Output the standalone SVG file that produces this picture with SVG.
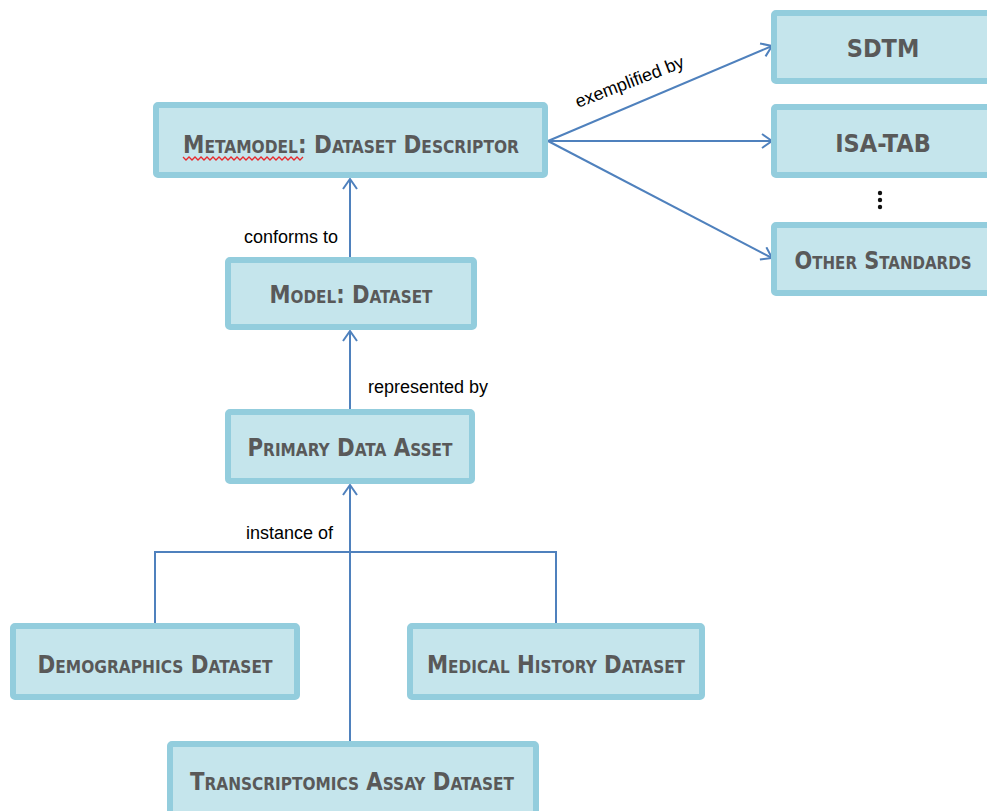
<svg xmlns="http://www.w3.org/2000/svg" width="987" height="811" viewBox="0 0 987 811">
  <style>
    .box { fill: #c5e5ec; stroke: #93cddd; stroke-width: 6; }
    .lbl { font-family: "Liberation Sans Narrow", "DejaVu Sans Condensed", "Liberation Sans", sans-serif; font-weight: bold; fill: #595959; text-anchor: middle; font-size: 25px; }
    .sc { font-variant: small-caps; }
    .edge { fill: none; stroke: #4f81bd; stroke-width: 2; }
    .elbl { font-family: "Liberation Sans", Arial, sans-serif; font-size: 18px; fill: #000; }
  </style>
  <defs>
    <marker id="open" viewBox="0 0 12 16" refX="11" refY="8" markerWidth="12" markerHeight="16" markerUnits="userSpaceOnUse" orient="auto">
      <path d="M1,1 L11,8 L1,15" fill="none" stroke="#4f81bd" stroke-width="2"/>
    </marker>
  </defs>

  <rect width="987" height="811" fill="#ffffff"/>

  <g id="connectors">
    <line class="edge" x1="350" y1="257" x2="350" y2="179" marker-end="url(#open)"/>
    <line class="edge" x1="350" y1="409" x2="350" y2="331" marker-end="url(#open)"/>
    <line class="edge" x1="350" y1="741" x2="350" y2="485" marker-end="url(#open)"/>
    <polyline class="edge" points="155,623 155,552 556,552 556,623"/>
    <line class="edge" x1="548" y1="141" x2="772" y2="46" marker-end="url(#open)"/>
    <line class="edge" x1="548" y1="141" x2="772" y2="141" marker-end="url(#open)"/>
    <line class="edge" x1="548" y1="141" x2="772" y2="258" marker-end="url(#open)"/>
    <text class="elbl" transform="translate(578,108) rotate(-21)">exemplified by</text>
    <text class="elbl" x="244" y="243">conforms to</text>
    <text class="elbl" x="368" y="393">represented by</text>
    <text class="elbl" x="246" y="539">instance of</text>
  </g>

  <g id="metamodel">
    <rect class="box" x="156" y="105" width="389" height="70" rx="2"/>
    <text class="lbl sc" x="351" y="153" textLength="336" lengthAdjust="spacingAndGlyphs">Metamodel: Dataset Descriptor</text>
    <path d="M183,157 l3,3 l3,-3 l3,3 l3,-3 l3,3 l3,-3 l3,3 l3,-3 l3,3 l3,-3 l3,3 l3,-3 l3,3 l3,-3 l3,3 l3,-3 l3,3 l3,-3 l3,3 l3,-3 l3,3 l3,-3 l3,3 l3,-3 l3,3 l3,-3 l3,3 l3,-3 l3,3 l3,-3 l3,3 l3,-3 l3,3 l3,-3 l3,3 l3,-3 l3,3 l3,-3 l3,3 l3,-3" fill="none" stroke="#e8292c" stroke-width="1.3"/>
  </g>

  <g id="sdtm">
    <rect class="box" x="774" y="13" width="220" height="68" rx="2"/>
    <text class="lbl" x="883" y="57">SDTM</text>
  </g>

  <g id="isatab">
    <rect class="box" x="774" y="107" width="220" height="68" rx="2"/>
    <text class="lbl" x="883" y="152">ISA-TAB</text>
  </g>

  <g id="ellipsis">
    <circle cx="880" cy="193" r="2.2" fill="#111"/>
    <circle cx="880" cy="200" r="2.2" fill="#111"/>
    <circle cx="880" cy="207" r="2.2" fill="#111"/>
  </g>

  <g id="other-standards">
    <rect class="box" x="774" y="225" width="220" height="68" rx="2"/>
    <text class="lbl sc" x="883" y="269" textLength="177" lengthAdjust="spacingAndGlyphs">Other Standards</text>
  </g>

  <g id="model-dataset">
    <rect class="box" x="228" y="260" width="246" height="67" rx="2"/>
    <text class="lbl sc" x="351" y="303" textLength="163" lengthAdjust="spacingAndGlyphs">Model: Dataset</text>
  </g>

  <g id="primary-data-asset">
    <rect class="box" x="228" y="412" width="244" height="69" rx="2"/>
    <text class="lbl sc" x="350" y="456" textLength="205" lengthAdjust="spacingAndGlyphs">Primary Data Asset</text>
  </g>

  <g id="demographics-dataset">
    <rect class="box" x="13" y="626" width="284" height="71" rx="2"/>
    <text class="lbl sc" x="155" y="673" textLength="235" lengthAdjust="spacingAndGlyphs">Demographics Dataset</text>
  </g>

  <g id="medical-history-dataset">
    <rect class="box" x="410" y="626" width="292" height="71" rx="2"/>
    <text class="lbl sc" x="556" y="673" textLength="258" lengthAdjust="spacingAndGlyphs">Medical History Dataset</text>
  </g>

  <g id="transcriptomics-assay-dataset">
    <rect class="box" x="170" y="744" width="366" height="75" rx="2"/>
    <text class="lbl sc" x="352" y="790" textLength="324" lengthAdjust="spacingAndGlyphs">Transcriptomics Assay Dataset</text>
  </g>
</svg>
